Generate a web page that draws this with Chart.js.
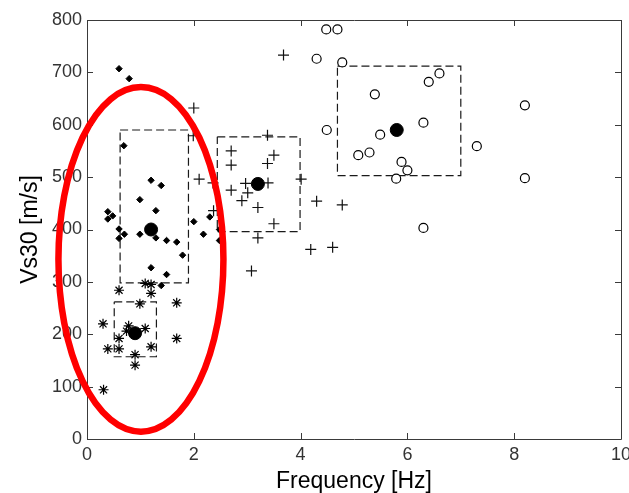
<!DOCTYPE html>
<html>
<head>
<meta charset="utf-8">
<script src="https://cdn.jsdelivr.net/npm/chart.js@4/dist/chart.umd.min.js"></script>
<style>
  html, body { margin: 0; padding: 0; background: #ffffff; }
  #c { display: block; }
</style>
</head>
<body>
<canvas id="c" width="629" height="493"></canvas>
<script>
// Site groups: resonance frequency [Hz] against Vs30 [m/s]
const starFreq = [0.31, 0.30, 0.39, 0.60, 0.60, 0.60, 0.78, 0.90, 0.90, 0.99, 1.09, 1.09, 1.20, 1.20, 1.20, 1.68, 1.68, 0.74];
const starVs   = [94,   220,  172,  172,  192,  284,  216,  161,  141,  258,  211,  297,  295,  278,  176,  260,  192,  206];

const diamondFreq = [0.60, 0.79, 0.69, 1.20, 1.39, 0.99, 1.29, 0.39, 0.48, 0.39, 0.60, 0.70, 0.60, 0.99, 1.29, 1.49, 1.68, 1.79, 2.00, 2.18, 2.30, 2.48, 2.48, 1.20, 1.49, 1.39];
const diamondVs   = [707,  688,  560,  494,  484,  457,  436,  434,  426,  420,  401,  391,  383,  391,  384,  379,  376,  351,  415,  391,  424,  400,  379,  327,  314,  293];

const plusFreq = [3.68, 2.00, 1.99, 3.38, 2.70, 3.50, 2.70, 3.38, 2.10, 2.36, 2.97, 3.39, 4.01, 2.70, 3.01, 2.90, 3.20, 4.30, 4.78, 2.37, 3.50, 3.20, 4.19, 4.60, 3.08];
const plusVs   = [733,  632,  579,  580,  550,  542,  523,  526,  496,  489,  488,  489,  496,  475,  470,  455,  442,  454,  447,  436,  411,  384,  362,  366,  321];

const circleFreq = [4.48, 4.69, 4.30, 4.78, 6.60, 6.40, 5.39, 8.20, 6.30, 4.49, 5.49, 7.30, 5.29, 5.08, 5.89, 6.00, 5.79, 8.20, 6.30];
const circleVs   = [782,  782,  726,  719,  698,  682,  658,  637,  604,  590,  581,  559,  547,  542,  529,  513,  497,  498,  403];

// Group centres (filled dots)
const meanFreq = [0.90, 1.20, 3.20, 5.80];
const meanVs   = [202,  400,  487,  590];

// Dashed group boxes: [freqMin, freqMax, vsMin, vsMax]
const starBox    = [0.51, 1.30, 157, 262];
const diamondBox = [0.62, 1.90, 298, 590];
const plusBox    = [2.44, 3.99, 396, 577];
const circleBox  = [4.69, 7.00, 503, 712];

// Highlight ellipse: centre [Hz, m/s] and semi-axes [Hz, m/s]
const ellipseCenter = [1.01, 343];
const ellipseRadii  = [1.545, 329];

// Axis ticks
const freqTicks = [0, 2, 4, 6, 8, 10];
const vsTicks   = [0, 100, 200, 300, 400, 500, 600, 700, 800];

const pts = (xs, ys) => xs.map((v, i) => ({ x: v, y: ys[i] }));
const boxPath = b => [
  { x: b[0], y: b[3] }, { x: b[1], y: b[3] }, { x: b[1], y: b[2] },
  { x: b[0], y: b[2] }, { x: b[0], y: b[3] }
];

function boxDataset(b) {
  return {
    type: 'scatter', data: boxPath(b), showLine: true, order: 5,
    borderColor: '#1a1a1a', borderWidth: 1.2, borderDash: [8, 4],
    pointRadius: 0, fill: false, tension: 0
  };
}

// Axes frame with inward tick marks on all four sides
const frameTicks = {
  id: 'frameTicks',
  beforeDatasetsDraw(chart) {
    const { ctx, chartArea: a, scales: { x, y } } = chart;
    const len = 6;
    ctx.save();
    ctx.strokeStyle = '#3a3a3a';
    ctx.lineWidth = 1;
    ctx.beginPath();
    ctx.rect(Math.round(a.left) + 0.5, Math.round(a.top) + 0.5,
             Math.round(a.right) - Math.round(a.left), Math.round(a.bottom) - Math.round(a.top));
    freqTicks.forEach(v => {
      const px = Math.round(x.getPixelForValue(v)) + 0.5;
      ctx.moveTo(px, a.bottom); ctx.lineTo(px, a.bottom - len);
      ctx.moveTo(px, a.top); ctx.lineTo(px, a.top + len);
    });
    vsTicks.forEach(v => {
      const py = Math.round(y.getPixelForValue(v)) + 0.5;
      ctx.moveTo(a.left, py); ctx.lineTo(a.left + len, py);
      ctx.moveTo(a.right, py); ctx.lineTo(a.right - len, py);
    });
    ctx.stroke();
    ctx.restore();
  }
};

// Red ellipse around the low-frequency groups, drawn on top of everything
const highlightEllipse = {
  id: 'highlightEllipse',
  afterDraw(chart) {
    const { ctx, scales: { x, y } } = chart;
    const cx = x.getPixelForValue(ellipseCenter[0]);
    const cy = y.getPixelForValue(ellipseCenter[1]);
    const rx = Math.abs(x.getPixelForValue(ellipseCenter[0] + ellipseRadii[0]) - cx);
    const ry = Math.abs(y.getPixelForValue(ellipseCenter[1] + ellipseRadii[1]) - cy);
    ctx.save();
    ctx.beginPath();
    ctx.ellipse(cx, cy, rx, ry, 0, 0, Math.PI * 2);
    ctx.strokeStyle = '#ff0000';
    ctx.lineWidth = 6.5;
    ctx.stroke();
    ctx.restore();
  }
};

const tickFont = { family: "'Liberation Sans', Arial, sans-serif", size: 18 };
const titleFont = { family: "'Liberation Sans', Arial, sans-serif", size: 23, lineHeight: 1 };

new Chart(document.getElementById('c'), {
  type: 'scatter',
  data: {
    datasets: [
      boxDataset(starBox), boxDataset(diamondBox), boxDataset(plusBox), boxDataset(circleBox),
      {
        data: pts(starFreq, starVs), order: 2, pointStyle: 'star',
        pointRadius: 5, borderColor: '#000000', backgroundColor: '#000000', borderWidth: 1.2
      },
      {
        data: pts(diamondFreq, diamondVs), order: 2, pointStyle: 'rectRot',
        pointRadius: 3.2, borderColor: '#000000', backgroundColor: '#000000', borderWidth: 1
      },
      {
        data: pts(plusFreq, plusVs), order: 2, pointStyle: 'cross',
        pointRadius: 5.5, borderColor: '#111111', backgroundColor: '#111111', borderWidth: 1.2
      },
      {
        data: pts(circleFreq, circleVs), order: 2, pointStyle: 'circle',
        pointRadius: 4.5, borderColor: '#000000', backgroundColor: '#ffffff', borderWidth: 1.2
      },
      {
        data: pts(meanFreq, meanVs), order: 0, pointStyle: 'circle',
        pointRadius: 6.5, borderColor: '#000000', backgroundColor: '#000000', borderWidth: 1
      }
    ]
  },
  options: {
    responsive: false,
    animation: false,
    events: [],
    layout: { padding: { top: 20, right: 8, left: 0, bottom: 0 } },
    plugins: { legend: { display: false }, tooltip: { enabled: false } },
    scales: {
      x: {
        type: 'linear', min: 0, max: 10,
        afterBuildTicks: s => { s.ticks = freqTicks.map(v => ({ value: v })); },
        afterFit: s => { s.height = 54; s.paddingLeft = 0; s.paddingRight = 0; },
        grid: { display: false, drawTicks: false },
        border: { display: false },
        ticks: { font: tickFont, color: '#333333', padding: 5, maxRotation: 0, autoSkip: false },
        title: { display: true, text: 'Frequency [Hz]', font: titleFont, color: '#000000', padding: { top: 0, bottom: 0 } }
      },
      y: {
        type: 'linear', min: 0, max: 800,
        afterBuildTicks: s => { s.ticks = vsTicks.map(v => ({ value: v })); },
        afterFit: s => { s.width = 87; s.paddingTop = 0; s.paddingBottom = 0; },
        grid: { display: false, drawTicks: false },
        border: { display: false },
        ticks: { font: tickFont, color: '#333333', padding: 5, autoSkip: false },
        title: { display: true, text: 'Vs30 [m/s]', font: titleFont, color: '#000000', padding: { top: 19, bottom: 0 } }
      }
    }
  },
  plugins: [frameTicks, highlightEllipse]
});
</script>
</body>
</html>
